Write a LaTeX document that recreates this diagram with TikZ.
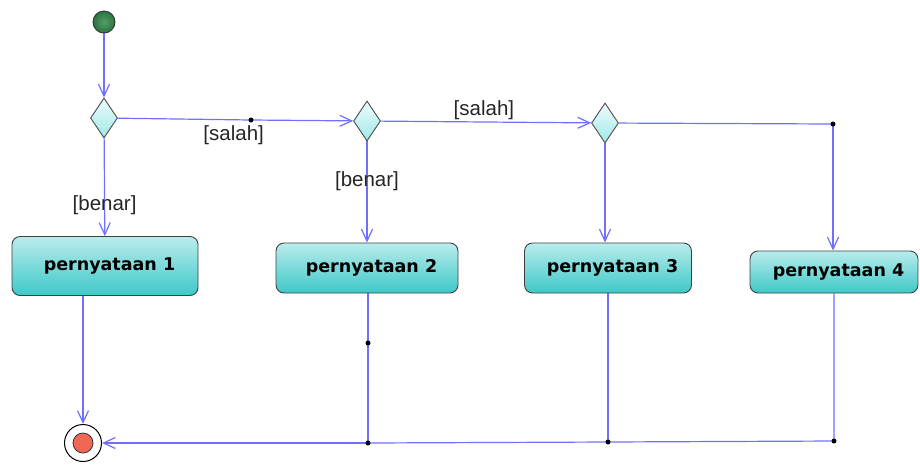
\documentclass[tikz,border=0pt]{standalone}
\usepackage{fontspec}
\setmainfont{Liberation Sans}
\newfontfamily\boxfont{DejaVu Sans}
\usetikzlibrary{shapes.geometric,arrows.meta,backgrounds}

\definecolor{flowblue}{RGB}{112,112,255}
\definecolor{acttop}{RGB}{186,236,236}
\definecolor{actbot}{RGB}{62,200,200}
\definecolor{dectop}{RGB}{238,252,252}
\definecolor{decbot}{RGB}{160,232,232}
\definecolor{startgreen}{RGB}{46,130,70}
\definecolor{endred}{RGB}{240,104,84}

\begin{document}
\begin{tikzpicture}[x=1pt, y=-1pt]
        \tikzstyle{flow}=[draw=flowblue, line width=1.2pt, -{Straight Barb[length=12pt,width=11pt]}]
        \tikzstyle{wire}=[draw=flowblue, line width=1.2pt]
        \tikzstyle{act}=[rectangle, rounded corners=8pt, draw=black!75, line width=0.9pt, top color=acttop, bottom color=actbot, font=\boxfont\bfseries\fontsize{17.5}{19}\selectfont, execute at begin node={\hspace*{9pt}}]
        \tikzstyle{dec}=[diamond, draw=black!70, line width=0.9pt, top color=dectop, bottom color=decbot, inner sep=0pt, minimum width=27pt, minimum height=40pt]
        \tikzstyle{dot}=[circle, fill=black, inner sep=0pt, minimum size=5pt]
        \tikzstyle{lbl}=[font=\fontsize{20.5}{22}\selectfont, text=black!85, inner sep=2pt]
        \useasboundingbox (0,0) rectangle (920,475);

        \node [circle, draw=black!80, line width=0.9pt, inner color=startgreen!80, outer color=startgreen!90!black, minimum size=22pt, inner sep=0pt] (start) at (104,22) {};
        \node [dec] (d1) at (104,118) {};
        \node [dec] (d2) at (367,121) {};
        \node [dec] (d3) at (605,123) {};

        \node [act, minimum width=186pt, minimum height=59pt] (p1) at (105,266) {pernyataan 1};
        \node [act, minimum width=182pt, minimum height=50pt] (p2) at (367,268) {pernyataan 2};
        \node [act, minimum width=167pt, minimum height=50pt] (p3) at (608,268) {pernyataan 3};
        \node [act, minimum width=168pt, minimum height=42pt] (p4) at (834,272) {pernyataan 4};

        \node [circle, draw=black, line width=1pt, fill=white, minimum size=37pt, inner sep=0pt] (stop) at (83,443) {};
        \node [circle, draw=black!80, line width=0.8pt, fill=endred, minimum size=20pt, inner sep=0pt] (stop-in) at (stop) {};

        \node [dot] (b1) at (251,120) {};
        \node [dot] (b3) at (833,124) {};
        \node [dot] (b4) at (368,343) {};
        \node [dot] (j2) at (368,443) {};
        \node [dot] (j3) at (608,442) {};
        \node [dot] (j4) at (834,441) {};

        \begin{scope}[on background layer]
        \draw [flow] (start) -- (d1);
        \draw [flow] (d1) -- node [lbl, pos=0.68] {[benar]} (p1);
        \draw [wire] (d1) -- node [lbl, pos=0.87, below=3pt] {[salah]} (b1.center);
        \draw [flow] (b1.center) -- (d2);
        \draw [flow] (d2) -- node [lbl, pos=0.39] {[benar]} (d2.south |- p2.north);
        \draw [flow] (d2) -- node [lbl, pos=0.49, above] {[salah]} (d3);
        \draw [flow] (d3) -- (d3.south |- p3.north);
        \draw [wire] (d3) -- (b3.center);
        \draw [flow] (b3.center) -- (b3 |- p4.north);

        \draw [flow] (p1.south -| stop) -- (stop);
        \draw [wire] (p2.south -| b4) -- (b4.center) -- (j2.center);
        \draw [wire] (p3.south -| j3) -- (j3.center);
        \draw [wire] (p4.south -| j4) -- (j4.center) -- (j3.center) -- (j2.center);
        \draw [flow] (j2.center) -- (stop);
        \end{scope}
    \end{tikzpicture}
\end{document}
